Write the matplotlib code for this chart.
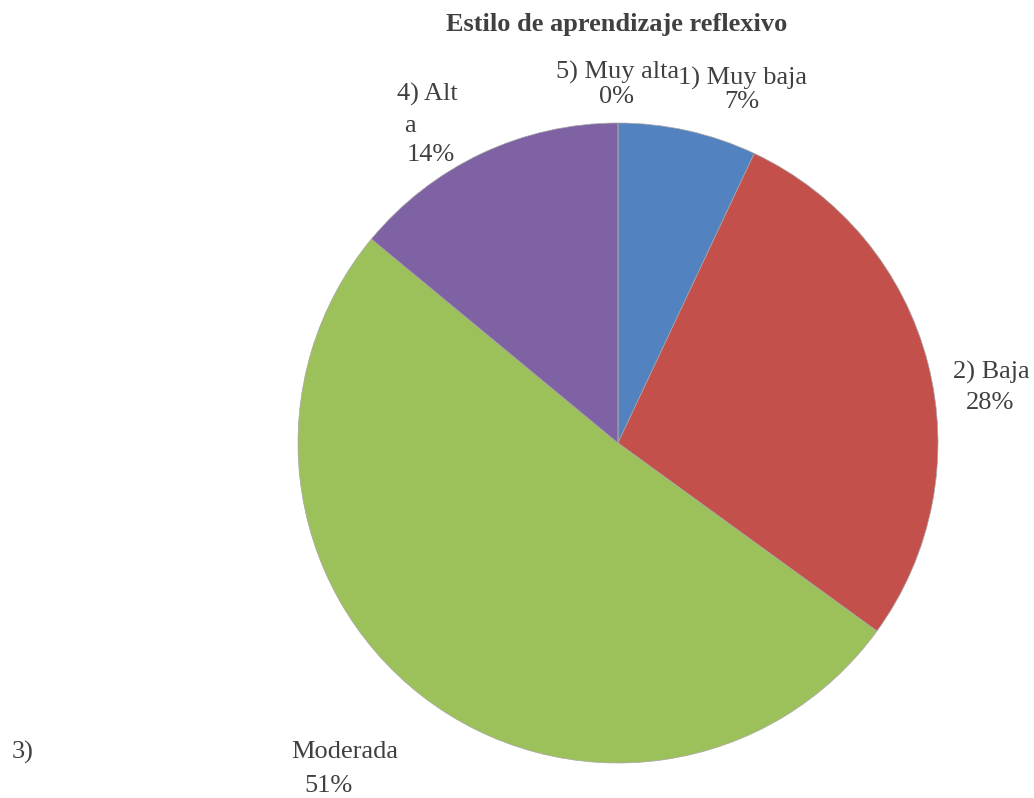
"""Pie chart: Estilo de aprendizaje reflexivo."""

import matplotlib
matplotlib.use("Agg")
import matplotlib.pyplot as plt

plt.rcParams["font.family"] = ["Liberation Serif", "DejaVu Serif"]

TITLE = "Estilo de aprendizaje reflexivo"
CATEGORIES = ["1) Muy baja", "2) Baja", "3) Moderada", "4) Alta", "5) Muy alta"]
PERCENTS = [7, 28, 51, 14, 0]
COLORS = ["#5382C0", "#C4504C", "#9DC15A", "#7F62A4", "#4BACC6"]

TEXT_COLOR = "#404040"
FS = 19
W, H = 1034, 798


def main() -> int:
    fig = plt.figure(figsize=(W / 100, H / 100), dpi=100)
    ax = fig.add_axes([0, 0, 1, 1])

    # y axis inverted below, so counterclock=True draws clockwise on screen
    ax.pie(PERCENTS, colors=COLORS, startangle=-90, counterclock=True,
           center=(618, 443), radius=320, frame=True,
           wedgeprops={"linewidth": 0.5, "edgecolor": "#a6a6a6"})
    ax.set_xlim(0, W)
    ax.set_ylim(H, 0)
    ax.set_aspect("equal")
    ax.axis("off")

    kw = dict(color=TEXT_COLOR, fontsize=FS, ha="center", va="center")
    left = dict(color=TEXT_COLOR, fontsize=FS, ha="left", va="center")
    ax.text(617, 25, TITLE, fontweight="bold", **kw)

    # data labels (Excel-style placement)
    ax.text(742, 78, CATEGORIES[0], **kw)
    ax.text(742, 102, f"{PERCENTS[0]}%", **kw)
    ax.text(991, 372, CATEGORIES[1], **kw)
    ax.text(990, 403, f"{PERCENTS[1]}%", **kw)
    ax.text(12, 752, "3)", **left)
    ax.text(345, 752, CATEGORIES[2].split(") ")[1], **kw)
    ax.text(329, 786, f"{PERCENTS[2]}%", **kw)
    ax.text(397, 94, "4) Alt", **left)
    ax.text(404, 126, "a", **left)
    ax.text(407, 155, f"{PERCENTS[3]}%", **left)
    ax.text(618, 72, CATEGORIES[4], **kw)
    ax.text(616, 97, f"{PERCENTS[4]}%", **kw)

    fig.savefig("out.png", dpi=100)
    return 0


if __name__ == "__main__":
    raise SystemExit(main())
